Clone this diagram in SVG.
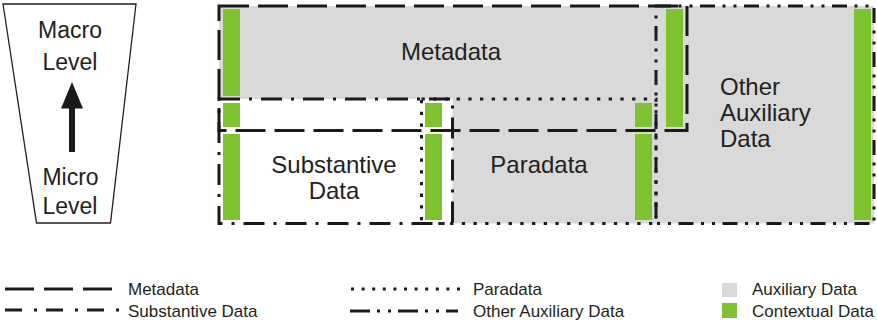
<svg xmlns="http://www.w3.org/2000/svg" width="877" height="325" viewBox="0 0 877 325">
  <defs>
    <style>
      text { font-family: "Liberation Sans", Arial, sans-serif; fill: #231f20; }
      .big { font-size: 24px; }
      .lvl { font-size: 23px; text-anchor: middle; }
      .mid { text-anchor: middle; }
      .leg { font-size: 17px; }
      .edge { fill: none; stroke: #1a1a1a; stroke-width: 3; stroke-linecap: butt; }
      .meta { stroke-dasharray: 30 9; }
      .subst { stroke-dasharray: 21 9 3 9; }
      .para { stroke-dasharray: 3.3 8.4; }
      .other { stroke-dasharray: 15 7.5 3 8 3 7.5; }
      .aux { fill: #d9d9d9; }
      .ctx { fill: #7dc22f; }
    </style>
  </defs>

  <!-- micro / macro scale -->
  <g id="level-scale">
    <polygon points="3,4 136,4 110.5,223 36.5,223" fill="#ffffff" stroke="#231f20" stroke-width="1.3"/>
    <text class="lvl" x="70" y="38">Macro</text>
    <text class="lvl" x="70" y="70">Level</text>
    <text class="lvl" x="70.5" y="185">Micro</text>
    <text class="lvl" x="70" y="214">Level</text>
  </g>

  <g id="connectors">
    <rect x="69" y="106" width="6" height="46" fill="#1a1a1a"/>
    <polygon points="72,82 61,108.5 83,108.5" fill="#1a1a1a"/>
  </g>

  <!-- area fills -->
  <g id="areas">
    <rect class="aux" x="219" y="6" width="655" height="217.5"/>
    <rect x="219" y="99" width="233.5" height="124.5" fill="#ffffff"/>
  </g>

  <!-- contextual data bars -->
  <g id="contextual-bars">
    <rect class="ctx" x="223" y="9" width="17" height="87"/>
    <rect class="ctx" x="223" y="103" width="17" height="24"/>
    <rect class="ctx" x="223" y="134" width="17" height="86"/>
    <rect class="ctx" x="425" y="103" width="17" height="24"/>
    <rect class="ctx" x="425" y="134" width="17" height="86"/>
    <rect class="ctx" x="635" y="103" width="17" height="24"/>
    <rect class="ctx" x="635" y="134" width="17" height="86"/>
    <rect class="ctx" x="666" y="9" width="17" height="118"/>
    <rect class="ctx" x="854" y="9" width="17" height="211"/>
  </g>

  <g id="node-metadata">
    <rect class="edge meta" x="219" y="6" width="468" height="124.5"/>
    <text class="big mid" x="451" y="60">Metadata</text>
  </g>

  <g id="node-substantive">
    <rect class="edge subst" x="219" y="99" width="233.5" height="124.5"/>
    <text class="big mid" x="334" y="173">Substantive</text>
    <text class="big mid" x="334" y="199">Data</text>
  </g>

  <g id="node-paradata">
    <rect class="edge para" x="421.5" y="99" width="234.5" height="124.5"/>
    <text class="big mid" x="539" y="173">Paradata</text>
  </g>

  <g id="node-other-auxiliary">
    <rect class="edge other" x="656" y="6" width="218" height="217.5"/>
    <text class="big" x="720" y="95">Other</text>
    <text class="big" x="720" y="121">Auxiliary</text>
    <text class="big" x="720" y="147">Data</text>
  </g>

  <!-- legend -->
  <g id="legend">
    <line class="edge meta" x1="5" y1="289" x2="113" y2="289" style="stroke-dasharray: 29 10"/>
    <text class="leg" x="128" y="295">Metadata</text>
    <line class="edge" x1="5" y1="310" x2="119" y2="310" style="stroke-dasharray: 17 12 3 9"/>
    <text class="leg" x="128" y="316.5">Substantive Data</text>

    <line class="edge" x1="351" y1="289" x2="461" y2="289" style="stroke-dasharray: 3 7.6"/>
    <text class="leg" x="473" y="295">Paradata</text>
    <line class="edge" x1="350" y1="311" x2="458" y2="311" style="stroke-dasharray: 20 7 3 8 3 7"/>
    <text class="leg" x="473" y="316.5">Other Auxiliary Data</text>

    <rect class="aux" x="722" y="283" width="15" height="14"/>
    <text class="leg" x="752" y="295">Auxiliary Data</text>
    <rect class="ctx" x="722" y="303" width="15" height="15"/>
    <text class="leg" x="752" y="316.5">Contextual Data</text>
  </g>
</svg>
